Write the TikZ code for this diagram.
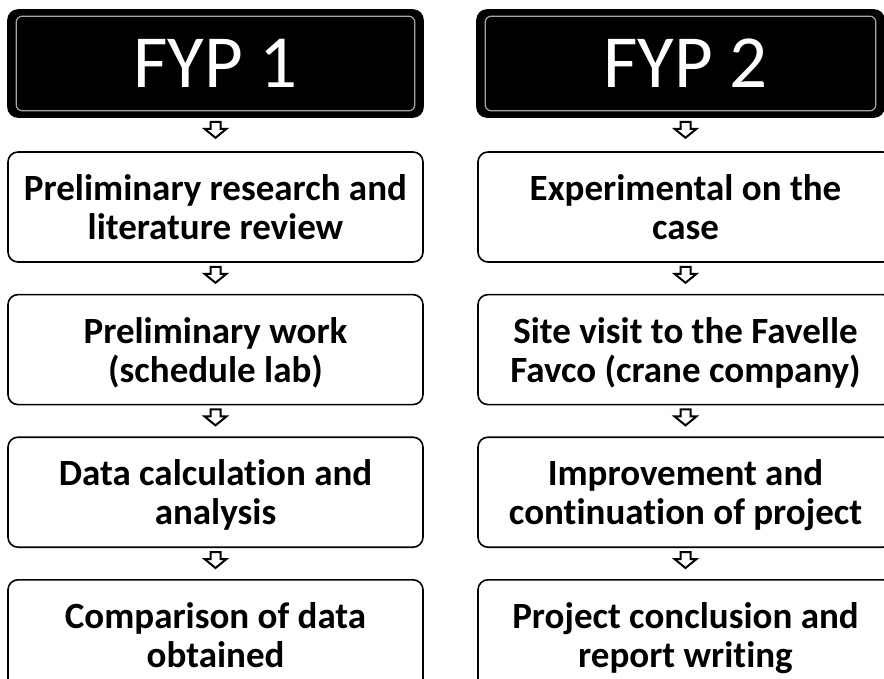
\documentclass[tikz,border=0pt]{standalone}
\usepackage{fontspec}
\setmainfont{Carlito}[Ligatures=NoCommon]
\usetikzlibrary{positioning,calc}

\tikzset{
  phasebox/.style={draw=black, fill=black, line width=1.6pt, rounded corners=10pt,
    minimum width=407pt, minimum height=107pt, text=white,
    font=\fontsize{75}{80}\selectfont},
  taskbox/.style={draw=black, line width=1.6pt, rounded corners=10pt,
    minimum width=415pt, minimum height=110pt, align=center, text depth=-6pt,
    font=\bfseries\fontsize{37}{39}\selectfont},
  flowarrow/.style={draw=black, fill=white, line width=2pt, line join=miter},
  glossline/.style={draw=white!65!black, line width=1.2pt, rounded corners=6pt},
}
% hollow down arrow from one box to the next
\newcommand\stepdown[2]{\draw[flowarrow] ($(#1.south -| #2.north)+(-5,4)$) -- ++(10,0) -- ++(0,7)
  -- ++(6,0) -- ++(-11,9) -- ++(-11,-9) -- ++(6,0) -- cycle;}
% inner rim of a header
\newcommand\gloss[1]{\draw[glossline] ($(#1.north west)+(9,7)$) rectangle ($(#1.south east)+(-9,-7)$);}

\begin{document}
\begin{tikzpicture}[x=1pt, y=-1pt, node distance=31pt]
\useasboundingbox (0,0) rectangle (884,679);
\clip (0,0) rectangle (884,679);

% first year
\node[phasebox, minimum width=415pt] (fypA) at (215.5,63.5) {FYP 1};
\node[taskbox] (a1) at (215.5,207) {Preliminary research and\\literature review};
\node[taskbox, below=of a1] (a2) {Preliminary work\\(schedule lab)};
\node[taskbox, below=of a2] (a3) {Data calculation and\\analysis};
\node[taskbox, below=of a3] (a4) {Comparison of data\\obtained};

% second year
\node[phasebox] (fypB) at (680.5,63.5) {\hspace*{10pt}FYP 2};
\node[taskbox] (b1) at (685.5,207) {Experimental on the\\case};
\node[taskbox, below=of b1] (b2) {Site visit to the Favelle\\Favco (crane company)};
\node[taskbox, below=of b2] (b3) {Improvement and\\continuation of project};
\node[taskbox, below=of b3] (b4) {Project conclusion and\\report writing};

\gloss{fypA}
\gloss{fypB}
\stepdown{fypA}{a1}
\stepdown{a1}{a2}
\stepdown{a2}{a3}
\stepdown{a3}{a4}
\stepdown{fypB}{b1}
\stepdown{b1}{b2}
\stepdown{b2}{b3}
\stepdown{b3}{b4}
\end{tikzpicture}
\end{document}
